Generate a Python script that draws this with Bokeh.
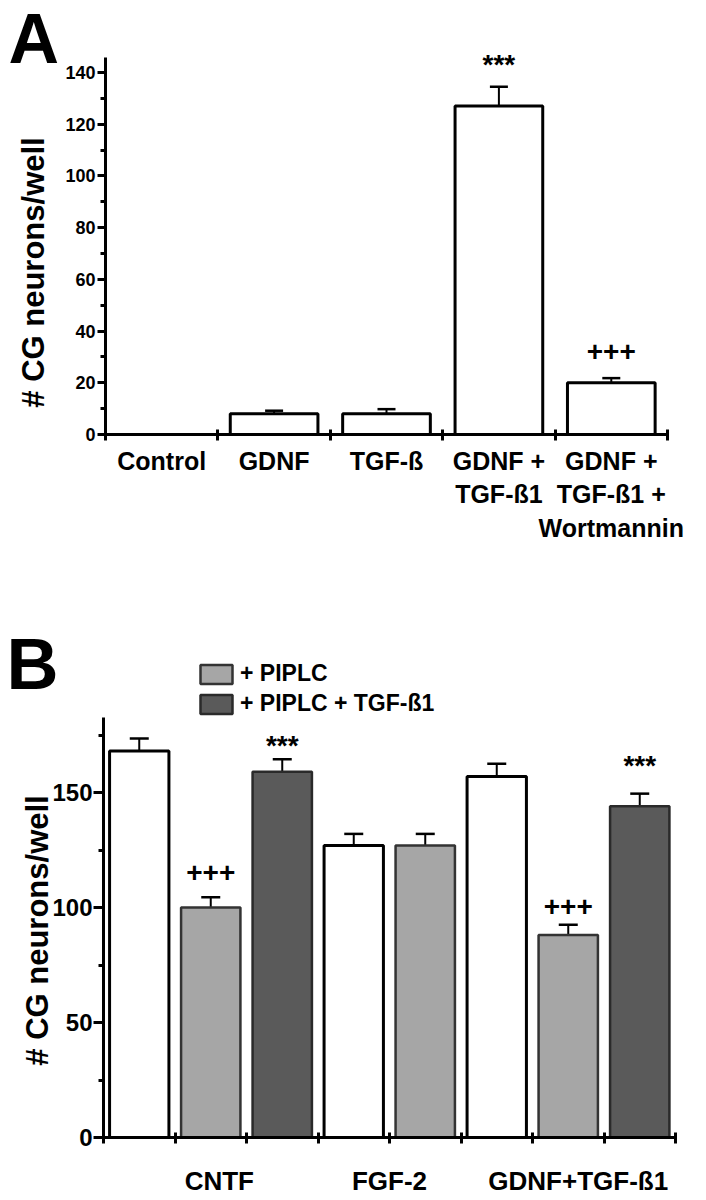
from math import pi
from bokeh.plotting import figure
from bokeh.models import (Range1d, FixedTicker, Label, Whisker, TeeHead,
                          ColumnDataSource, Legend, LegendItem)
from bokeh.layouts import column
from bokeh.embed import file_html
from bokeh.resources import INLINE

# ---------------- data: panel A ----------------
cats_a = ["Control", "GDNF", "TGF-ß", "GDNF +\nTGF-ß1", "GDNF +\nTGF-ß1 +\nWortmannin"]
vals_a = [0.0, 8.0, 8.0, 127.0, 20.0]
errs_a = [0.0, 1.2, 1.8, 7.5, 1.8]
sig_a = ["", "", "", "***", "+++"]
yticks_a = [0, 20, 40, 60, 80, 100, 120, 140]

# ---------------- data: panel B ----------------
groups_b = ["CNTF", "FGF-2", "GDNF+TGF-ß1"]
group_sizes_b = [3, 2, 3]
treat_b = ["none", "PIPLC", "PIPLC+TGF", "none", "PIPLC", "none", "PIPLC", "PIPLC+TGF"]
vals_b = [168.0, 100.0, 159.0, 127.0, 127.0, 157.0, 88.0, 144.0]
errs_b = [5.5, 4.5, 5.5, 5.0, 5.0, 5.5, 4.5, 5.5]
sig_b = ["", "+++", "***", "", "", "", "+++", "***"]
yticks_b = [0, 50, 100, 150]
legend_b = ["+ PIPLC", "+ PIPLC + TGF-ß1"]
ytitle = "# CG neurons/well"

# ---------------- styles / geometry (pixels) ----------------
FONT = "Liberation Sans"
W = 706
HA, HB = 556, 644
sig_off_a = [0, 0, 0, 22, 27]
sig_off_b = [0, 25, 14, 0, 0, 0, 18, 28]
label_shift_b = [0.12, 0.0, 0.14]
fills = {"none": "white", "PIPLC": "#a6a6a6", "PIPLC+TGF": "#5a5a5a"}
lines = {"none": "black", "PIPLC": "#333333", "PIPLC+TGF": "#2a2a2a"}
lwid = {"none": 3, "PIPLC": 2.5, "PIPLC+TGF": 2.5}

# panel A geometry: axis origin at (105, 434), 112.4 px per slot, 2.586 px per unit
A_X0, A_SX, A_Y0, A_SY = 105.0, 112.4, 434.0, 2.586
# panel B geometry (page coords): origin (103, 1137), 71.5 px per slot, 2.3 px per unit
B_TOP = HA
B_X0, B_SX, B_Y0, B_SY = 103.0, 71.5, 1137.0 - B_TOP, 2.3


def style_axes(p, xb, yb):
    p.grid.visible = False
    p.outline_line_color = None
    for ax in (p.xaxis[0], p.yaxis[0]):
        ax.fixed_location = 0
        ax.axis_line_width = 3
        ax.axis_line_color = "black"
        ax.major_tick_line_width = 3
        ax.minor_tick_line_width = 3
        ax.major_tick_line_color = "black"
        ax.minor_tick_line_color = "black"
        ax.major_label_text_font = FONT
        ax.major_label_text_font_style = "bold"
        ax.major_label_text_color = "black"
        ax.major_tick_in = 0
        ax.minor_tick_in = 0
    p.xaxis[0].bounds = xb
    p.yaxis[0].bounds = yb
    p.xaxis[0].major_tick_out = 0
    p.xaxis[0].minor_tick_in = 5
    p.xaxis[0].minor_tick_out = 6
    p.yaxis[0].minor_tick_out = 5


def text_label(p, x, y, text, size, angle=0.0, align="center", y_offset=0):
    p.add_layout(Label(x=x, y=y, y_offset=y_offset, text=text, angle=angle,
                       text_align=align, text_baseline="alphabetic",
                       text_font=FONT, text_font_style="bold",
                       text_font_size=size, text_color="black"))


# ================= Panel A =================
n_a = len(cats_a)
xa = [i + 0.5 for i in range(n_a)]
src_a = ColumnDataSource(dict(x=xa, top=vals_a,
                              upper=[v + e for v, e in zip(vals_a, errs_a)]))

pA = figure(width=W, height=HA,
            x_range=Range1d(-A_X0 / A_SX, (W - A_X0) / A_SX),
            y_range=Range1d(-(HA - A_Y0) / A_SY, A_Y0 / A_SY),
            output_backend="svg", toolbar_location=None, min_border=0)
style_axes(pA, (0, n_a), (0, (A_Y0 - 57) / A_SY))
pA.xaxis[0].ticker = FixedTicker(ticks=xa, minor_ticks=list(range(n_a + 1)))
pA.xaxis[0].major_label_overrides = {x: c for x, c in zip(xa, cats_a)}
pA.xaxis[0].major_label_text_font_size = "25px"
pA.xaxis[0].major_label_standoff = 6
pA.yaxis[0].ticker = FixedTicker(ticks=yticks_a,
                                 minor_ticks=[t + 10 for t in yticks_a[:-1]])
pA.yaxis[0].major_label_text_font_size = "18px"
pA.yaxis[0].major_tick_out = 8
pA.yaxis[0].major_label_standoff = 2

pA.vbar(x="x", top="top", bottom=0, width=0.78, source=src_a,
        fill_color="white", line_color="black", line_width=3)
pA.add_layout(Whisker(base="x", lower="top", upper="upper", source=src_a,
                      dimension="height", line_width=2, line_color="black",
                      upper_head=TeeHead(size=18, line_width=2.5, line_color="black"),
                      lower_head=None))
for i, s in enumerate(sig_a):
    if s:
        text_label(pA, xa[i], vals_a[i] + errs_a[i], s, "28px", y_offset=sig_off_a[i])
text_label(pA, (33 - A_X0) / A_SX, (A_Y0 - 272) / A_SY, ytitle, "31px", angle=pi / 2)
text_label(pA, (8 - A_X0) / A_SX, (A_Y0 - 38) / A_SY, "A", "70px", align="left")

# ================= Panel B =================
n_b = len(vals_b)
xb = [i + 0.5 for i in range(n_b)]
starts = [sum(group_sizes_b[:k]) for k in range(len(group_sizes_b))]
centers_b = [s + g / 2 + d for s, g, d in zip(starts, group_sizes_b, label_shift_b)]

pB = figure(width=W, height=HB,
            x_range=Range1d(-B_X0 / B_SX, (W - B_X0) / B_SX),
            y_range=Range1d(-(HB - B_Y0) / B_SY, B_Y0 / B_SY),
            output_backend="svg", toolbar_location=None, min_border=0)
style_axes(pB, (0, n_b), (0, 182.6))
pB.xaxis[0].ticker = FixedTicker(ticks=centers_b, minor_ticks=list(range(n_b + 1)))
pB.xaxis[0].major_label_overrides = {x: g for x, g in zip(centers_b, groups_b)}
pB.xaxis[0].major_label_text_font_size = "26px"
pB.xaxis[0].major_label_standoff = 22
pB.yaxis[0].ticker = FixedTicker(ticks=yticks_b, minor_ticks=[t + 25 for t in yticks_b])
pB.yaxis[0].major_label_text_font_size = "24px"
pB.yaxis[0].major_tick_out = 10
pB.yaxis[0].major_label_standoff = 1

renderers = {}
for t in ["none", "PIPLC", "PIPLC+TGF"]:
    idx = [i for i in range(n_b) if treat_b[i] == t]
    src = ColumnDataSource(dict(x=[xb[i] for i in idx], top=[vals_b[i] for i in idx]))
    renderers[t] = pB.vbar(x="x", top="top", bottom=0, width=0.83, source=src,
                           fill_color=fills[t], line_color=lines[t], line_width=lwid[t])

src_eb = ColumnDataSource(dict(x=xb, top=vals_b,
                               upper=[v + e for v, e in zip(vals_b, errs_b)]))
pB.add_layout(Whisker(base="x", lower="top", upper="upper", source=src_eb,
                      dimension="height", line_width=2, line_color="black",
                      upper_head=TeeHead(size=19, line_width=2.5, line_color="black"),
                      lower_head=None))
for i, s in enumerate(sig_b):
    if s:
        text_label(pB, xb[i], vals_b[i] + errs_b[i], s, "28px", y_offset=sig_off_b[i])

leg = Legend(items=[LegendItem(label=legend_b[0], renderers=[renderers["PIPLC"]]),
                    LegendItem(label=legend_b[1], renderers=[renderers["PIPLC+TGF"]])],
             location=(196, HB - (717 - B_TOP)), glyph_width=40, glyph_height=24,
             label_standoff=4, spacing=3, padding=0, margin=0, border_line_color=None,
             background_fill_alpha=0, label_text_font=FONT, label_text_font_style="bold",
             label_text_font_size="23px", label_text_color="black")
pB.add_layout(leg)

text_label(pB, (37 - B_X0) / B_SX, (B_Y0 - (930 - B_TOP)) / B_SY, ytitle, "31px", angle=pi / 2)
text_label(pB, (6 - B_X0) / B_SX, (B_Y0 - (663 - B_TOP)) / B_SY, "B", "72px", align="left")

layout = column(pA, pB, spacing=0)
open("out.html", "w").write(file_html(layout, INLINE))
